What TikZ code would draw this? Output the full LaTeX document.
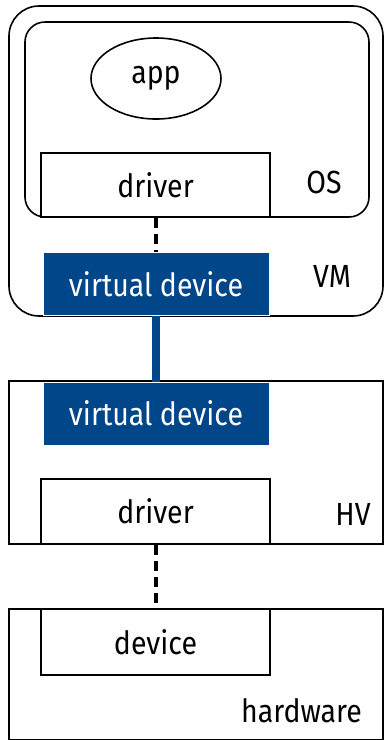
\documentclass[tikz,border=0pt]{standalone}
\usepackage{fontspec}
\setmainfont[FakeStretch=0.89]{Fira Sans}
\usetikzlibrary{shapes.geometric}
\definecolor{vdblue}{RGB}{0,70,137}
\begin{document}
\begin{tikzpicture}[x=1pt,y=-1pt,
  every node/.style={font=\fontsize{32}{36}\selectfont, inner sep=0pt},
  box/.style={draw=black, line width=1.6pt, fill=white, minimum width=229pt, minimum height=#1},
  vdev/.style={draw=white, line width=1pt, fill=vdblue, text=white, minimum width=226pt, minimum height=#1},
  layer/.style={draw=black, line width=1.6pt},
  dashlink/.style={draw=black, line width=3.3pt, dash pattern=on 10pt off 6pt},
  bluelink/.style={draw=vdblue, line width=8pt}]
  \useasboundingbox (0,0) rectangle (385,740);

  % virtual machine and guest OS
  \draw[layer, rounded corners=30pt] (9,6) rectangle (383,316);
  \draw[layer, rounded corners=20pt] (25,22) rectangle (369,217);
  \node[draw=black, line width=1.6pt, ellipse, minimum width=130pt, minimum height=81pt] (app) at (156,78.5) {app};
  \node[box=64pt] (gdrv) at (155.5,185) {driver};
  \node (os) at (324,182) {OS};
  \node[vdev=63pt] (gvd) at (156,284) {virtual device};
  \node (vm) at (332,276) {VM};

  % hypervisor
  \draw[layer] (9,381) rectangle (383,544);
  \node[vdev=63pt] (hvd) at (156,413.5) {virtual device};
  \node[box=65pt] (hdrv) at (155.5,511.5) {driver};
  \node (hv) at (353,514) {HV};

  % physical hardware
  \draw[layer] (9,609) rectangle (383,739.5);
  \node[box=66pt] (dev) at (155.5,642) {device};
  \node[anchor=east] (hw) at (362,711) {hardware};

  % links between layers
  \draw[dashlink] (gdrv.south -| 156,0) -- (gvd.north -| 156,0);
  \draw[bluelink] (gvd.south -| 156,0) -- (hvd.north -| 156,0);
  \draw[dashlink] (hdrv.south -| 156,0) -- (dev.north -| 156,0);
\end{tikzpicture}
\end{document}
